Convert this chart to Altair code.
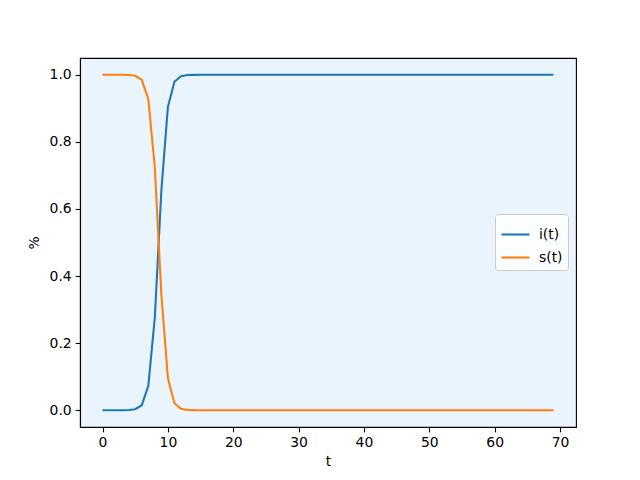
import altair as alt
import pandas as pd

t_vals = list(range(70))
i_vals = [0.0000, 0.0000, 0.0000, 0.0001, 0.0006, 0.0030, 0.0150, 0.0720, 0.2770, 0.6550,
          0.9040, 0.9790, 0.9957, 0.9991, 0.9998, 1.0000, 1.0000, 1.0000, 1.0000, 1.0000,
          1.0000, 1.0000, 1.0000, 1.0000, 1.0000, 1.0000, 1.0000, 1.0000, 1.0000, 1.0000,
          1.0000, 1.0000, 1.0000, 1.0000, 1.0000, 1.0000, 1.0000, 1.0000, 1.0000, 1.0000,
          1.0000, 1.0000, 1.0000, 1.0000, 1.0000, 1.0000, 1.0000, 1.0000, 1.0000, 1.0000,
          1.0000, 1.0000, 1.0000, 1.0000, 1.0000, 1.0000, 1.0000, 1.0000, 1.0000, 1.0000,
          1.0000, 1.0000, 1.0000, 1.0000, 1.0000, 1.0000, 1.0000, 1.0000, 1.0000, 1.0000]
s_vals = [1.0000, 1.0000, 1.0000, 0.9999, 0.9994, 0.9970, 0.9850, 0.9280, 0.7230, 0.3450,
          0.0960, 0.0210, 0.0043, 0.0009, 0.0002, 0.0000, 0.0000, 0.0000, 0.0000, 0.0000,
          0.0000, 0.0000, 0.0000, 0.0000, 0.0000, 0.0000, 0.0000, 0.0000, 0.0000, 0.0000,
          0.0000, 0.0000, 0.0000, 0.0000, 0.0000, 0.0000, 0.0000, 0.0000, 0.0000, 0.0000,
          0.0000, 0.0000, 0.0000, 0.0000, 0.0000, 0.0000, 0.0000, 0.0000, 0.0000, 0.0000,
          0.0000, 0.0000, 0.0000, 0.0000, 0.0000, 0.0000, 0.0000, 0.0000, 0.0000, 0.0000,
          0.0000, 0.0000, 0.0000, 0.0000, 0.0000, 0.0000, 0.0000, 0.0000, 0.0000, 0.0000]
series_names = ["i(t)", "s(t)"]
series_colors = ["#1f77b4", "#ff7f0e"]
x_ticks = [0, 10, 20, 30, 40, 50, 60, 70]
y_ticks = [0.0, 0.2, 0.4, 0.6, 0.8, 1.0]

df = pd.concat([
    pd.DataFrame({"t": t_vals, "v": i_vals, "series": series_names[0]}),
    pd.DataFrame({"t": t_vals, "v": s_vals, "series": series_names[1]}),
])

font = "DejaVu Sans"
fs = 13.9

chart = alt.Chart(df).mark_line(strokeWidth=2.08).encode(
    x=alt.X("t:Q", title="t",
            scale=alt.Scale(domain=[-3.45, 72.45], nice=False, zero=False),
            axis=alt.Axis(values=x_ticks, format="d", grid=False, tickSize=4.86,
                          labelPadding=4, titlePadding=5)),
    y=alt.Y("v:Q", title="%",
            scale=alt.Scale(domain=[-0.05, 1.05], nice=False, zero=False),
            axis=alt.Axis(values=y_ticks, format=".1f", grid=False, tickSize=4.86,
                          labelPadding=4, titlePadding=8)),
    color=alt.Color("series:N", title=None,
                    scale=alt.Scale(domain=series_names, range=series_colors),
                    legend=alt.Legend(orient="none", legendX=415, legendY=156,
                                      symbolType="stroke", symbolSize=784,
                                      symbolStrokeWidth=2.08, symbolOffset=0,
                                      fillColor="rgba(255,255,255,0.8)",
                                      strokeColor="#cccccc", cornerRadius=3,
                                      padding=5, labelFontSize=fs, labelOffset=8,
                                      labelFont=font, rowPadding=-1,
                                      labelColor="black")),
).properties(
    width=496, height=369,
    padding={"left": 72, "top": 50, "right": 56, "bottom": 45},
    autosize=alt.AutoSizeParams(type="none"),
    background="white",
).configure_view(
    fill="#eaf4fd", stroke="black", strokeWidth=1.1,
).configure_axis(
    domainColor="black", tickColor="black", labelColor="black", titleColor="black",
    labelFont=font, titleFont=font, labelFontSize=fs, titleFontSize=fs,
    titleFontWeight="normal", domainWidth=1.1, tickWidth=1.1,
)

chart.save("out.html", embed_options={"renderer": "svg", "actions": False})
